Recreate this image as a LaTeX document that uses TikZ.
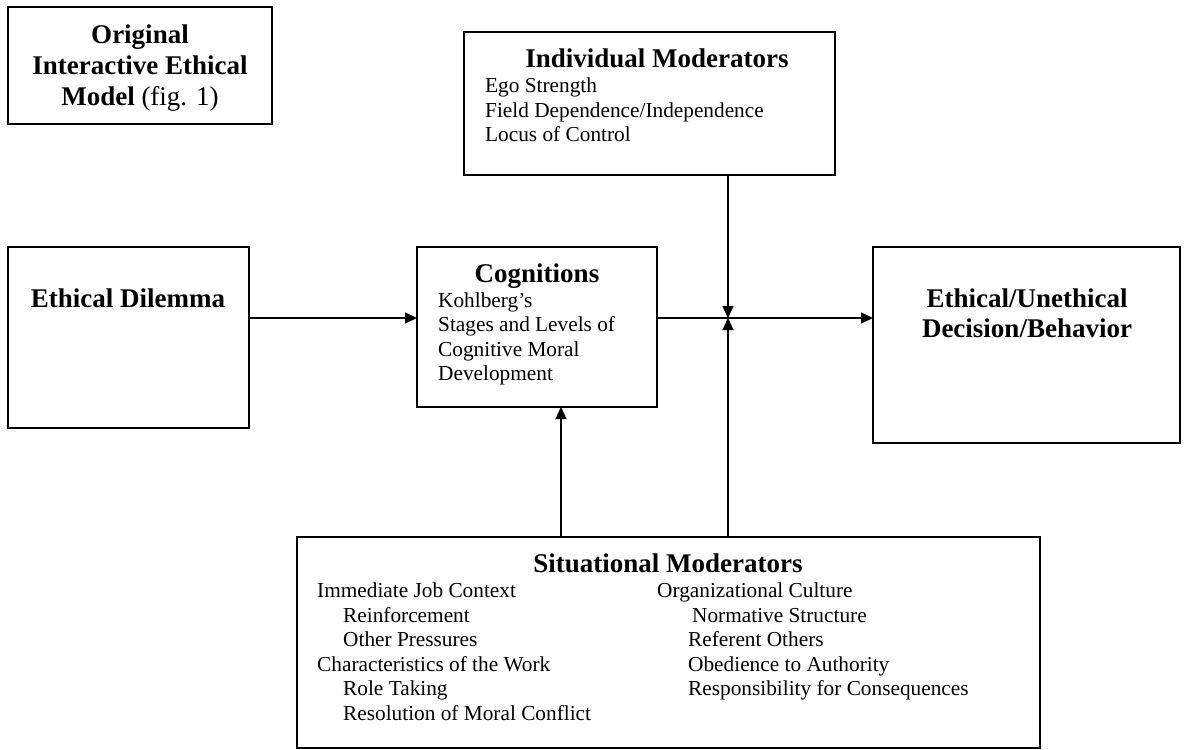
\documentclass[tikz,border=0pt]{standalone}
\usepackage{fontspec}
\setmainfont{Liberation Serif}
\usetikzlibrary{arrows.meta}
\begin{document}
\begin{tikzpicture}[x=1pt,y=-1pt,
  box/.style={draw,line width=1.3pt},
  conn/.style={line width=1.3pt,-{Triangle[length=12pt,width=11pt]}},
  ttl/.style={font=\fontsize{27}{31}\selectfont\bfseries,align=center,inner sep=0pt},
  itm/.style={font=\fontsize{21.3}{24.6}\selectfont,align=left,inner sep=0pt,anchor=base west}]
\useasboundingbox (0,0) rectangle (1187,750);
% boxes
\draw[box] (8,7) rectangle (272,124);
\draw[box] (464,32) rectangle (835,175);
\draw[box] (8,247) rectangle (249,428);
\draw[box] (417,247) rectangle (657,407);
\draw[box] (873,247) rectangle (1180,443);
\draw[box] (297,537) rectangle (1040,748);
% named anchors
\coordinate (edR) at (249,318);
\coordinate (cogL) at (417,318);
\coordinate (cogR) at (657,318);
\coordinate (euL) at (873,318);
\coordinate (cross) at (728,318);
\coordinate (indB) at (728,175);
\coordinate (sitT) at (728,537);
\coordinate (sitT2) at (561,537);
\coordinate (cogB) at (561,407);
% texts
\node[ttl,anchor=base] (tA1) at (140,43) {Original};
\node[ttl,anchor=base] (tA2) at (140,74) {Interactive Ethical};
\node[ttl,anchor=base] (tA3) at (140,105) {Model \textmd{(fig. 1)}};
\node[ttl,anchor=base] (tInd) at (657,67) {Individual Moderators};
\node[itm] (i1) at (485,92) {Ego Strength};
\node[itm] (i2) at (485,117) {Field Dependence/Independence};
\node[itm] (i3) at (485,141) {Locus of Control};
\node[ttl,anchor=base] (tED) at (128,307) {Ethical Dilemma};
\node[ttl,anchor=base] (tCog) at (537,282) {Cognitions};
\node[itm] (c1) at (438,307) {Kohlberg’s};
\node[itm] (c2) at (438,331) {Stages and Levels of};
\node[itm] (c3) at (438,356) {Cognitive Moral};
\node[itm] (c4) at (438,380) {Development};
\node[ttl,anchor=base] (tEU1) at (1027,307) {Ethical/Unethical};
\node[ttl,anchor=base] (tEU2) at (1027,337) {Decision/Behavior};
\node[ttl,anchor=base] (tSit) at (668,572) {Situational Moderators};
\node[itm] (s1) at (317,597) {Immediate Job Context};
\node[itm] (s2) at (343,622) {Reinforcement};
\node[itm] (s3) at (343,646) {Other Pressures};
\node[itm] (s4) at (317,671) {Characteristics of the Work};
\node[itm] (s5) at (343,695) {Role Taking};
\node[itm] (s6) at (343,720) {Resolution of Moral Conflict};
\node[itm] (r1) at (657,597) {Organizational Culture};
\node[itm] (r2) at (692,622) {Normative Structure};
\node[itm] (r3) at (688,646) {Referent Others};
\node[itm] (r4) at (688,671) {Obedience to Authority};
\node[itm] (r5) at (688,695) {Responsibility for Consequences};
% connectors
\draw[conn] (edR) -- (cogL);
\draw[conn] (cogR) -- (euL);
\draw[conn] (indB) -- (cross);
\draw[conn] (sitT) -- (cross);
\draw[conn] (sitT2) -- (cogB);
\end{tikzpicture}
\end{document}
